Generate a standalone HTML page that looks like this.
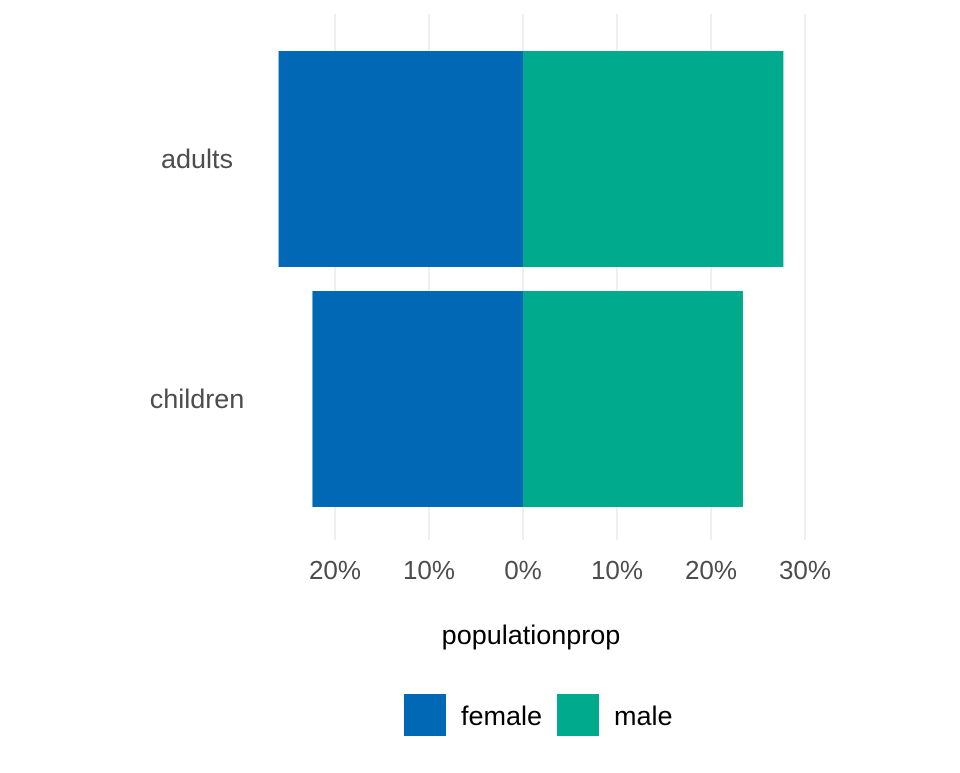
<!DOCTYPE html>
<html><head><meta charset="utf-8"><style>
body{margin:0;background:#fff;width:960px;height:768px;overflow:hidden;font-family:"Liberation Sans",Arial,sans-serif}
</style></head><body>
<svg id="chart" width="960" height="768" xmlns="http://www.w3.org/2000/svg" font-family="Liberation Sans, Arial, sans-serif"></svg>
<script>
const categories = ["adults","children"];
const femaleValues = [26.0, 22.4];
const maleValues = [27.7, 23.4];
const tickValues = [-20,-10,0,10,20,30];
const tickLabels = ["20%","10%","0%","10%","20%","30%"];

const svg = document.getElementById('chart');
const NS = 'http://www.w3.org/2000/svg';
const x0 = 523, pxPer = 9.4;
const xScale = v => x0 + v*pxPer;
const bandTop = [51, 291], bandH = 216;
const yCenter = i => bandTop[0] + i*240 + bandH/2;
function mk(tag, attrs, text){const e=document.createElementNS(NS,tag);for(const k in attrs)e.setAttribute(k,attrs[k]);if(text!==undefined)e.textContent=text;svg.appendChild(e);return e;}

tickValues.forEach((t,i)=>{
  const g=mk('line',{x1:xScale(t),x2:xScale(t),y1:14,y2:540,stroke:'#e6e6e6','stroke-width':1.3});
  
  
  const l=mk('text',{x:xScale(t),y:579,'text-anchor':'middle','font-size':26,fill:'#4d4d4d'},tickLabels[i]);
  
  
});

categories.forEach((c,i)=>{
  const yc=yCenter(i);
  const f=mk('rect',{x:xScale(-femaleValues[i]),y:yc-bandH/2,width:xScale(0)-xScale(-femaleValues[i]),height:bandH,fill:'#0068b4'});
  
  
  const m=mk('rect',{x:xScale(0),y:yc-bandH/2,width:xScale(maleValues[i])-xScale(0),height:bandH,fill:'#00aa8c'});
  
  
  const t=mk('text',{x:197,y:yc+9,'text-anchor':'middle','font-size':27,fill:'#4d4d4d'},c);
  
  
});

const at=mk('text',{x:531,y:644,'text-anchor':'middle','font-size':27,fill:'#000'},'populationprop');



const lf=mk('rect',{x:404,y:694,width:42,height:42,fill:'#0068b4'});


const lft=mk('text',{x:461,y:725,'font-size':27,fill:'#000'},'female');


const lm=mk('rect',{x:557,y:694,width:42,height:42,fill:'#00aa8c'});


const lmt=mk('text',{x:614,y:725,'font-size':27,fill:'#000'},'male');


</script>
</body></html>
